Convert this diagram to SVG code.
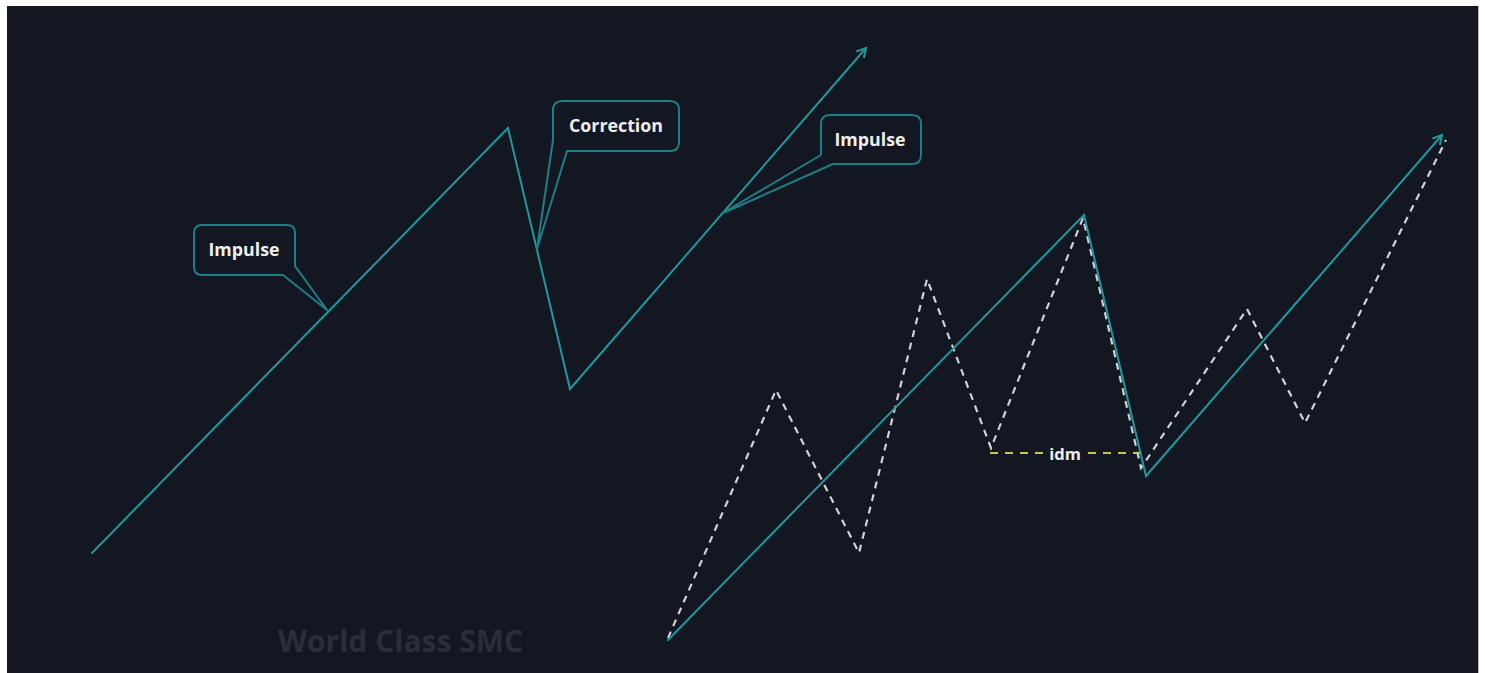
<svg xmlns="http://www.w3.org/2000/svg" width="1485" height="673" viewBox="0 0 1485 673">
<defs>
<style>
.teal{fill:none;stroke:#22979f;stroke-width:2;stroke-linejoin:miter;stroke-linecap:round}
.dash{fill:none;stroke:#d0d2d6;stroke-width:2.2;stroke-dasharray:7 6}
.idm{fill:none;stroke:#c9c25a;stroke-width:2;stroke-dasharray:8 7}
.callout{fill:#131722;stroke:#1f7d85;stroke-width:2;stroke-linejoin:round}
.lbl{font-family:"Open Sans","Liberation Sans",sans-serif;font-weight:bold;font-size:17.8px;fill:#eeeeee;text-anchor:middle}
.wm{font-family:"Open Sans","Liberation Sans",sans-serif;font-weight:bold;font-size:30px;fill:#2a2e39}
</style>
<marker id="arr" viewBox="0 0 12 12" refX="10" refY="6" markerWidth="12" markerHeight="12" markerUnits="userSpaceOnUse" orient="auto">
<path d="M1,1 L10,6 L1,11" fill="none" stroke="#22979f" stroke-width="2"/>
</marker>
</defs>
<rect x="0" y="0" width="1485" height="673" fill="#ffffff"/>
<rect x="7" y="6" width="1471" height="667" fill="#131722"/>
<line x1="1478.5" y1="6" x2="1478.5" y2="673" stroke="#b8b8bc" stroke-width="1"/>
<text class="wm" x="278" y="652">World Class SMC</text>
<g id="connectors">
<polyline class="teal" points="92,553 508,128 570,389 866,48" marker-end="url(#arr)"/>
<polyline class="dash" points="668,638 776,390 859,553 927,279 991,448 1083,218 1141,468 1247,309 1305,423 1446,140"/>
<polyline class="teal" points="668,640 1084,215 1146,476 1442,135" marker-end="url(#arr)"/>
<line class="idm" x1="990" y1="453" x2="1044" y2="453"/>
<line class="idm" x1="1088" y1="453" x2="1140" y2="453"/>
</g>
<g id="impulse1">
<path class="callout" d="M202,225 H287 Q295,225 295,233 V266 L327,310 L283,275 H202 Q194,275 194,267 V233 Q194,225 202,225 Z"/>
<text class="lbl" x="244" y="256">Impulse</text>
</g>
<g id="correction">
<path class="callout" d="M563,101 H670 Q679,101 679,110 V142 Q679,151 670,151 H567 L537,249 L553,140 V110 Q553,101 563,101 Z"/>
<text class="lbl" x="616" y="132">Correction</text>
</g>
<g id="impulse2">
<path class="callout" d="M830,115 H912 Q921,115 921,124 V155 Q921,164 912,164 H833 L721,214 L821,155 V124 Q821,115 830,115 Z"/>
<text class="lbl" x="870" y="146">Impulse</text>
</g>
<g id="idm-label">
<text class="lbl" x="1065" y="460" style="font-size:16.5px">idm</text>
</g>
</svg>
